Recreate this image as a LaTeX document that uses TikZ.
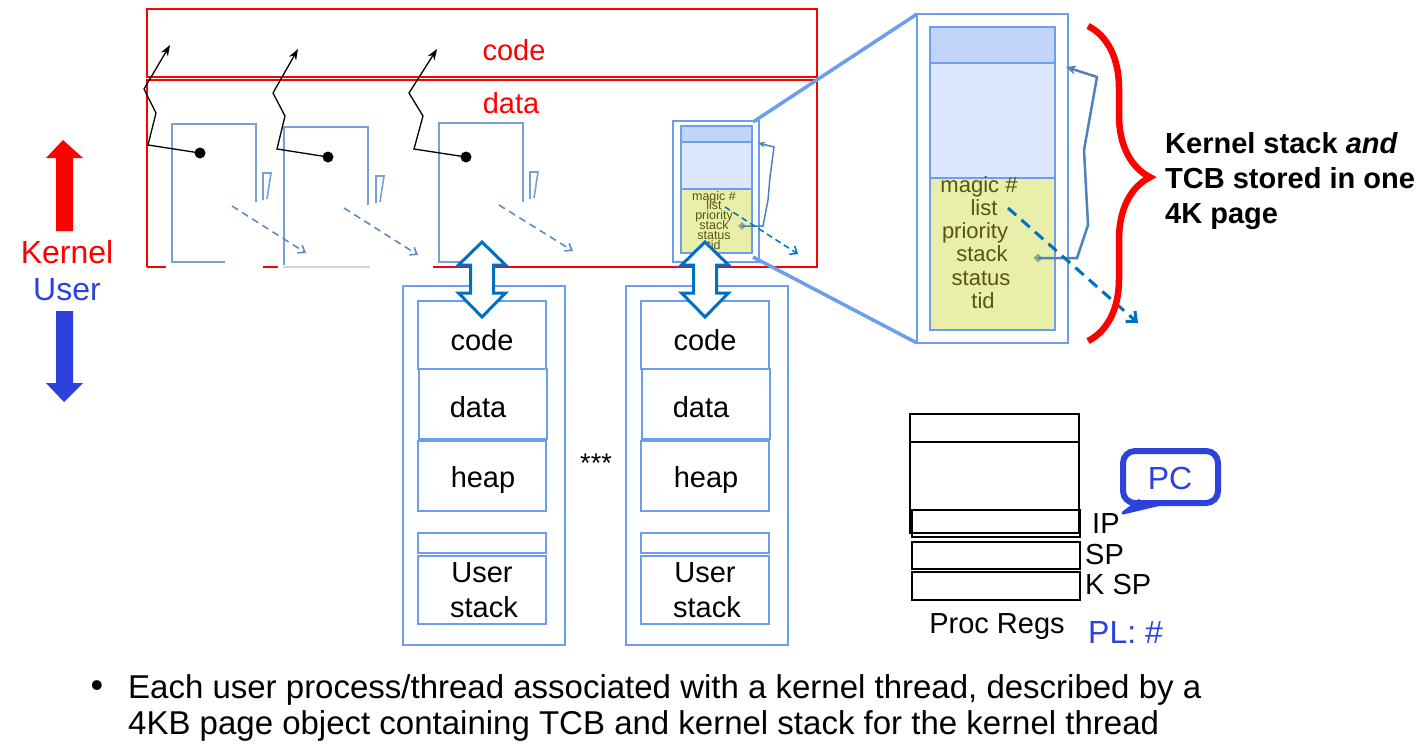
\documentclass[tikz,border=0pt]{standalone}
\usepackage{fontspec}
\setmainfont{Liberation Sans}
\usetikzlibrary{decorations.pathreplacing,arrows.meta,shapes.geometric}
\definecolor{kred}{RGB}{255,0,0}
\definecolor{ublue}{RGB}{45,65,220}
\definecolor{boxblue}{RGB}{109,158,235}
\definecolor{thinblue}{RGB}{120,160,210}
\definecolor{stblue}{RGB}{79,129,189}
\definecolor{dashblue}{RGB}{91,140,200}
\definecolor{arrblue}{RGB}{0,112,192}
\definecolor{tcbtop}{RGB}{192,211,249}
\definecolor{tcbmid}{RGB}{220,230,253}
\definecolor{tcbyel}{RGB}{233,239,170}
\definecolor{tcbtxt}{RGB}{85,85,20}
\definecolor{diam}{RGB}{140,170,140}
\begin{document}
\begin{tikzpicture}[x=1pt,y=-1pt,
  f29/.style={font=\fontsize{29}{34}\selectfont},
  f32/.style={font=\fontsize{32}{37}\selectfont},
  f33/.style={font=\fontsize{33}{38}\selectfont},
  redbox/.style={draw=kred,line width=1.5pt},
  thinbox/.style={draw=thinblue,line width=1.2pt},
  zz/.style={draw=black,line width=1.3pt,-{Stealth[length=11pt,width=8pt]}},
  dot/.style={circle,fill=black,inner sep=0pt,minimum size=11pt},
  tdash/.style={draw=dashblue,line width=1.6pt,dash pattern=on 7pt off 5pt,-{Straight Barb[length=6pt,width=9pt]}},
  ubox/.style={draw=boxblue,line width=2pt},
  uout/.style={draw=boxblue,line width=1.5pt},
  hollow/.style={draw=arrblue,fill=white,line width=3pt,line join=miter},
  reg/.style={draw=black,line width=1.6pt},
  tcbt/.style={text=tcbtxt,inner sep=0pt,anchor=base},
  dmd/.style={diamond,fill=diam,inner sep=0pt},
  dblarrow/.pic={\path[hollow] (0,-37.5) -- (23.5,-14.5) -- (11.5,-14.5) -- (11.5,13.5) -- (23.5,13.5) -- (0,37.5) -- (-23.5,13.5) -- (-11.5,13.5) -- (-11.5,-14.5) -- (-23.5,-14.5) -- cycle;}
]
\useasboundingbox[fill=white] (0,0) rectangle (1423,755);

% ---- red kernel regions ----
\draw[redbox] (147,9) rectangle (817,77);
\draw[redbox] (147,267) -- (147,80) -- (817,80) -- (817,267) -- (433,267);
\draw[redbox] (147,267) -- (166,267);
\draw[redbox] (263,267) -- (278,267);
\node[text=kred,f29] (kcode) at (514,50) {code};
\node[text=kred,f29] (kdata) at (511,103) {data};

% ---- thread boxes ----
\draw[thinbox] (256,202) -- (256,124) -- (172,124) -- (172,262) -- (225,262);
\draw[thinbox] (368,205) -- (368,127) -- (284,127) -- (284,265);
\draw[draw=gray!35,line width=1.5pt] (283,267) -- (370,267);
\draw[thinbox] (523,202) -- (523,123) -- (439,123) -- (439,262) -- (460,262);
\foreach \hx/\hy in {263/173,376/176,530/172}
  \draw[thinbox,line width=1.6pt] (\hx,\hy+27) -- (\hx,\hy) -- (\hx+8,\hy) -- (\hx+4,\hy+26);

% ---- zigzag pointers ----
\node[dot] (d1) at (200,153) {};
\node[dot] (d2) at (328,157) {};
\node[dot] (d3) at (466,157) {};
\coordinate (c1) at (170,45);
\coordinate (c2) at (298,49);
\coordinate (c3) at (437,49);
\draw[zz] (d1.center) -- (148,145) -- (156,113) -- (144,89) -- (c1);
\draw[zz] (d2.center) -- (277,149) -- (285,116) -- (273,93) -- (c2);
\draw[zz] (d3.center) -- (414,149) -- (423,116) -- (409,93) -- (c3);

% ---- dashed list pointers ----
\coordinate (ls1) at (232,206); \coordinate (le1) at (306,253);
\coordinate (ls2) at (344,208); \coordinate (le2) at (418,255);
\coordinate (ls3) at (499,205); \coordinate (le3) at (573,251);
\draw[tdash] (ls1) -- (le1);
\draw[tdash] (ls2) -- (le2);
\draw[tdash] (ls3) -- (le3);

% ---- small TCB page ----
\draw[draw=boxblue,line width=1.5pt] (673,121) rectangle (759,262);
\fill[tcbtop] (681,126) rectangle (752,142);
\fill[tcbmid] (681,142) rectangle (752,189);
\fill[tcbyel] (681,189) rectangle (752,253);
\draw[draw=boxblue,line width=2pt] (681,126) rectangle (752,253) (681,142) -- (752,142) (681,189) -- (752,189);
\foreach \t [count=\i] in {magic \#,list,priority,stack,status,tid}
  \node[tcbt,font=\fontsize{12.5}{12}\selectfont] (st\i) at (714,190.2+9.8*\i) {\t};
\node[dmd,minimum size=8pt] (sd) at (742,226) {};
\coordinate (sa) at (758,143);
\draw[stblue,line width=1.5pt,-{Stealth[length=7pt,width=6pt]}] (sd.center) -- (763,226) -- (768,200) -- (770,177) -- (774,147) -- (sa);
\coordinate (sls) at (725,207); \coordinate (sle) at (798,254);
\draw[arrblue,line width=1.5pt,dash pattern=on 6pt off 4pt,-{Straight Barb[length=6pt,width=10pt]}] (sls) -- (sle);

% ---- projection lines ----
\coordinate (pa) at (753,122); \coordinate (pb) at (917,14);
\coordinate (pc) at (753,257); \coordinate (pd) at (917,343);
\draw[boxblue,line width=3.5pt] (pa) -- (pb);
\draw[boxblue,line width=3.5pt] (pc) -- (pd);

% ---- big TCB page ----
\draw[draw=boxblue,line width=1.5pt] (917,14) rectangle (1068,343);
\fill[tcbtop] (930,27) rectangle (1055,63);
\fill[tcbmid] (930,63) rectangle (1055,178);
\fill[tcbyel] (930,178) rectangle (1055,330);
\draw[draw=boxblue,line width=2.2pt] (930,27) rectangle (1055,330) (930,63) -- (1055,63) (930,178) -- (1055,178);
\foreach \t/\xx [count=\i] in {magic \#/979,list/984,priority/975,stack/982,status/981,tid/983}
  \node[tcbt,font=\fontsize{22}{22}\selectfont] (bt\i) at (\xx,168.7+23.3*\i) {\t};
\node[dmd,minimum size=9pt] (bd) at (1038,258) {};
\coordinate (ba) at (1066,67);
\draw[stblue,line width=2.5pt,-{Stealth[length=10pt,width=9pt]}] (bd.center) -- (1077,258) -- (1088,225) -- (1084,150) -- (1097,77) -- (ba);
\coordinate (bls) at (1008,208); \coordinate (ble) at (1138,323);
\draw[arrblue,line width=3pt,dash pattern=on 11pt off 7pt,-{Straight Barb[length=8pt,width=14pt]}] (bls) -- (ble);

% ---- brace and caption ----
\coordinate (bra) at (1088,26); \coordinate (brb) at (1088,341);
\draw[kred,line width=6.5pt,decorate,decoration={brace,amplitude=62pt,aspect=0.48}] (bra) -- (brb);
\node[anchor=base west,inner sep=0pt,font=\fontsize{29}{34}\selectfont\bfseries] (k1) at (1165,153) {Kernel stack \textit{and}};
\node[anchor=base west,inner sep=0pt,font=\fontsize{29}{34}\selectfont\bfseries] (k2) at (1165,188) {TCB stored in one};
\node[anchor=base west,inner sep=0pt,font=\fontsize{29}{34}\selectfont\bfseries] (k3) at (1165,223) {4K page};

% ---- user address spaces ----
\foreach \n/\cx in {A/482,B/705} {
  \draw[uout] (\cx-79,286) rectangle (\cx+83,645);
  \draw[ubox] (\cx-64,301) rectangle (\cx+64,369);
  \draw[ubox] (\cx-63,369) rectangle (\cx+65,439);
  \draw[ubox] (\cx-64,441) rectangle (\cx+64,511);
  \draw[ubox] (\cx-64,533) rectangle (\cx+64,553);
  \draw[ubox] (\cx-64,556) rectangle (\cx+64,624);
  \node[f29,inner sep=0pt] (code\n) at (\cx,340) {code};
  \node[f29,inner sep=0pt] (data\n) at (\cx-4,407) {data};
  \node[f29,inner sep=0pt] (heap\n) at (\cx+1,480) {heap};
  \node[f29,inner sep=0pt,anchor=base] (user\n) at (\cx,582) {User};
  \node[f29,inner sep=0pt,anchor=base] (stack\n) at (\cx+2,617) {stack};
  \pic at (\cx,279.5) {dblarrow};
}
\node[font=\fontsize{27}{30}\selectfont,inner sep=0pt] (dots) at (596,463) {***};

% ---- processor registers ----
\draw[reg] (910,414) rectangle (1079,533);
\draw[reg] (910,442) -- (1079,442);
\draw[reg] (912,510) rectangle (1080,537);
\draw[reg] (912,542) rectangle (1080,569);
\draw[reg] (912,572) rectangle (1080,600);
\node[f29,anchor=base west,inner sep=0pt] (ip) at (1092,533) {IP};
\node[f29,anchor=base west,inner sep=0pt] (sp) at (1085,564) {SP};
\node[f29,anchor=base west,inner sep=0pt] (ksp) at (1085,594) {K SP};
\node[f29,anchor=base,inner sep=0pt] (preg) at (997,633) {Proc Regs};
\node[f32,anchor=base west,inner sep=0pt,text=ublue] (pl) at (1088,643) {PL: \#};
\draw[ublue,line width=6pt,rounded corners=12pt] (1123,451) rectangle (1218,503);
\coordinate (pctip) at (1123,513);
\fill[ublue] (1140,500) -- (pctip) -- (1165,503) -- cycle;
\draw[ublue,line width=3pt,line join=round] (1140,500) -- (pctip) -- (1165,503);
\node[f32,text=ublue,inner sep=0pt] (pc) at (1170,478) {PC};

% ---- kernel / user mode ----
\fill[kred] (63,140) -- (83,158) -- (73,158) -- (73,231) -- (56,231) -- (56,158) -- (46,158) -- cycle;
\node[f32,text=kred,inner sep=0pt] (kern) at (67,252) {Kernel};
\node[f32,text=ublue,inner sep=0pt] (usr) at (67,290) {User};
\fill[ublue] (56,311) -- (73,311) -- (73,383) -- (83,383) -- (64,402) -- (46,383) -- (56,383) -- cycle;

% ---- caption ----
\node[font=\fontsize{36}{40}\selectfont,inner sep=0pt] (bul) at (97,689) {•};
\node[f33,anchor=base west,inner sep=0pt] (cap1) at (128,698) {Each user process/thread associated with a kernel thread, described by a};
\node[f33,anchor=base west,inner sep=0pt] (cap2) at (128,734) {4KB page object containing TCB and kernel stack for the kernel thread};
\end{tikzpicture}
\end{document}
